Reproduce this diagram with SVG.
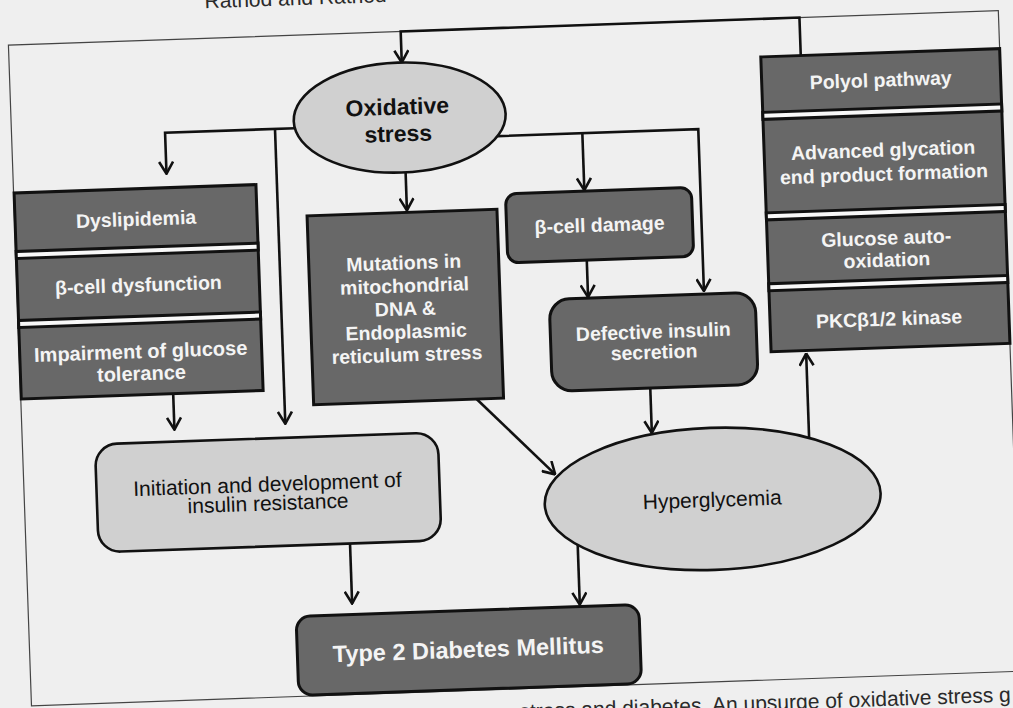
<svg xmlns="http://www.w3.org/2000/svg" width="1013" height="708" viewBox="0 0 1013 708">
<style>
.dark{fill:#686868;stroke:#111;stroke-width:3}
.light{fill:#d0d0d0;stroke:#111;stroke-width:2.6}
.strip{fill:#f8f8f8;stroke:#111;stroke-width:3}
.wt{font-family:"Liberation Sans",Arial,sans-serif;font-weight:bold;font-size:19.5px;fill:#f4f4f4;text-anchor:middle}
.bt{font-family:"Liberation Sans",Arial,sans-serif;font-size:21px;fill:#111;text-anchor:middle}
.conn{fill:none;stroke:#111;stroke-width:2.6}
.page{font-family:"Liberation Sans",Arial,sans-serif;font-size:21px;fill:#2a2a2a}
</style>
<defs>
<marker id="arr" viewBox="0 0 14 16" refX="13" refY="8" markerWidth="14" markerHeight="16" markerUnits="userSpaceOnUse" orient="auto">
<path d="M1,1 L13,8 L1,15" fill="none" stroke="#111" stroke-width="2.6" stroke-linejoin="miter"/>
</marker>
</defs>
<rect x="0" y="0" width="1013" height="708" fill="#efefef"/>
<g transform="rotate(-2 506 354)">
<text class="page" x="217" y="-2">Rathod and Rathod</text>
<text class="page" x="507" y="719">stress and diabetes. An upsurge of oxidative stress g</text>
<rect x="19.5" y="28" width="990.5" height="661" fill="none" stroke="#444" stroke-width="1.2"/>

<g id="connectors">
<path class="conn" d="M811,66 V28 H412 V59" marker-end="url(#arr)"/>
<path class="conn" d="M303,121 H173 V162" marker-end="url(#arr)"/>
<path class="conn" d="M283,121 V416" marker-end="url(#arr)"/>
<path class="conn" d="M412,169 V207" marker-end="url(#arr)"/>
<path class="conn" d="M505,136 H706 V298" marker-end="url(#arr)"/>
<path class="conn" d="M590,136 V193" marker-end="url(#arr)"/>
<path class="conn" d="M590,263 V300" marker-end="url(#arr)"/>
<path class="conn" d="M649,393 V438" marker-end="url(#arr)"/>
<path class="conn" d="M172,382 V418" marker-end="url(#arr)"/>
<path class="conn" d="M475,398 L551,476" marker-end="url(#arr)"/>
<path class="conn" d="M343.5,538 V598" marker-end="url(#arr)"/>
<path class="conn" d="M571,547 V607" marker-end="url(#arr)"/>
<path class="conn" d="M806,448 V364" marker-end="url(#arr)"/>
</g>

<g id="oxidative-stress">
<ellipse class="light" cx="408" cy="114" rx="106" ry="55"/>
<text class="bt" x="406" y="111" style="font-weight:bold;font-size:23px">Oxidative</text>
<text class="bt" x="406" y="138" style="font-weight:bold;font-size:23px">stress</text>
</g>

<g id="left-stack">
<rect class="dark" x="20" y="176" width="242" height="206"/>
<rect class="strip" x="20" y="234.5" width="242" height="7"/>
<rect class="strip" x="20" y="303.5" width="242" height="7"/>
<text class="wt" x="141" y="213">Dyslipidemia</text>
<text class="wt" x="141" y="279">β-cell dysfunction</text>
<text class="wt" x="141" y="345.5" style="font-size:20px">Impairment of glucose</text>
<text class="wt" x="141" y="367.5" style="font-size:20px">tolerance</text>
</g>

<g id="mutations">
<rect class="dark" x="312" y="209" width="190" height="189"/>
<text class="wt" x="407" y="266">Mutations in</text>
<text class="wt" x="407" y="289">mitochondrial</text>
<text class="wt" x="407" y="312">DNA &amp;</text>
<text class="wt" x="407" y="335">Endoplasmic</text>
<text class="wt" x="407" y="358">reticulum stress</text>
</g>

<g id="beta-cell-damage">
<rect class="dark" x="511" y="194" width="186" height="69" rx="11"/>
<text class="wt" x="604" y="235">β-cell damage</text>
</g>

<g id="defective-insulin-secretion">
<rect class="dark" x="551" y="301" width="206" height="92" rx="20"/>
<text class="wt" x="654" y="343.5">Defective insulin</text>
<text class="wt" x="654" y="364">secretion</text>
</g>

<g id="right-stack">
<rect class="dark" x="771" y="66" width="239" height="295"/>
<rect class="strip" x="771" y="121.5" width="239" height="7"/>
<rect class="strip" x="771" y="222" width="239" height="7"/>
<rect class="strip" x="771" y="293" width="239" height="7"/>
<text class="wt" x="890" y="100">Polyol pathway</text>
<text class="wt" x="890" y="170">Advanced glycation</text>
<text class="wt" x="890" y="194">end product formation</text>
<text class="wt" x="890" y="258">Glucose auto-</text>
<text class="wt" x="890" y="280">oxidation</text>
<text class="wt" x="890" y="339">PKCβ1/2 kinase</text>
</g>

<g id="insulin-resistance">
<rect class="light" x="92" y="430" width="343" height="108" rx="22"/>
<text class="bt" x="263" y="483">Initiation and development of</text>
<text class="bt" x="263" y="502">insulin resistance</text>
</g>

<g id="hyperglycemia">
<ellipse class="light" cx="707.5" cy="506" rx="168" ry="71"/>
<text class="bt" x="707" y="514">Hyperglycemia</text>
</g>

<g id="t2dm">
<rect class="dark" x="287" y="609" width="343" height="79" rx="14"/>
<text class="wt" x="458" y="656" style="font-size:23.5px">Type 2 Diabetes Mellitus</text>
</g>
</g>
</svg>
